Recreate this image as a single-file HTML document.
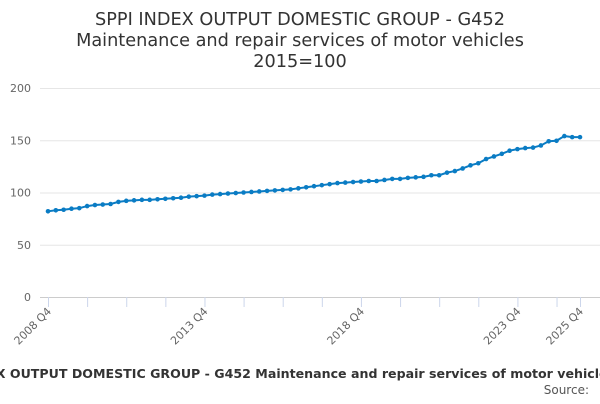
<!DOCTYPE html>
<html><head><meta charset="utf-8"><style>
body{margin:0;width:600px;height:400px;background:#fff;overflow:hidden;font-family:"DejaVu Sans","Liberation Sans",sans-serif}
</style></head><body>
<svg width="600" height="400">
<g font-size="17.7" fill="#333" text-anchor="middle">
<text x="300" y="25">SPPI INDEX OUTPUT DOMESTIC GROUP - G452</text>
<text x="300" y="46">Maintenance and repair services of motor vehicles</text>
<text x="300" y="67">2015=100</text>
</g>
<g id="grid"></g><g id="yt" font-size="11" fill="#666" text-anchor="end"></g>
<g id="xt" font-size="11" fill="#666"></g>
<path id="ln" fill="none" stroke="#0a7cc4" stroke-width="2"/>
<g id="pts" fill="#0a7cc4"></g>
<text x="270" y="378" font-size="12.6" font-weight="bold" fill="#333" text-anchor="middle">SPPI INDEX OUTPUT DOMESTIC GROUP - G452 Maintenance and repair services of motor vehicles</text>
<text x="589" y="394" font-size="12" fill="#555" text-anchor="end">Source:</text>
</svg>
<script>
const values=[82,83,83.5,84.5,85,87,88,88.5,89,91,92,92.5,93,93,93.5,94,94.5,95,96,96.5,97,98,98.5,99,99.5,100,100.5,101,101.5,102,102.5,103,104,105,106,107,108,109,109.5,110,110.5,111,111,112,113,113,114,114.5,115,116.5,116.5,119,120.5,123,126,128,132,134.5,137,140,141.5,142.5,143,145,149,149.5,154,153];
while(values.length<69)values.push(values[values.length-1]);
const yTicks=[0,50,100,150,200];
const xLabels=["2008 Q4","2013 Q4","2018 Q4","2023 Q4","2025 Q4"];
const xLabelIdx=[0,20,40,60,68];
const NS="http://www.w3.org/2000/svg";
const X=i=>48+i*(532/68), Y=v=>297-v*1.045;
const mk=(t,a,p)=>{const e=document.createElementNS(NS,t);for(const k in a)e.setAttribute(k,a[k]);p.appendChild(e);return e;};
const grid=document.getElementById('grid'),yt=document.getElementById('yt'),xt=document.getElementById('xt'),pts=document.getElementById('pts');
yTicks.forEach(v=>{
const l=mk('line',{x1:40,x2:600,y1:Y(v)+.5,y2:Y(v)+.5,stroke:v===0?'#ccc':'#e6e6e6'},grid);


const t=mk('text',{x:31,y:Y(v)+4},yt);t.textContent=v;


});
for(let i=0;i<=68;i+=5){const l=mk('line',{x1:X(i)+.5,x2:X(i)+.5,y1:297,y2:307,stroke:'#ccd6eb'},grid);

}
{const l=mk('line',{x1:X(68)+.5,x2:X(68)+.5,y1:297,y2:307,stroke:'#ccd6eb'},grid);

}
xLabels.forEach((s,k)=>{const x=X(xLabelIdx[k])+4,y=312;
const t=mk('text',{x:x,y:y,'text-anchor':'end',transform:`rotate(-45 ${x} ${y})`},xt);t.textContent=s;

});
document.getElementById('ln').setAttribute('d',values.map((v,i)=>(i?'L':'M')+X(i)+' '+Y(v)).join(''));
values.forEach((v,i)=>{const c=mk('circle',{cx:X(i),cy:Y(v),r:2.3},pts);

});
</script>
</body></html>
